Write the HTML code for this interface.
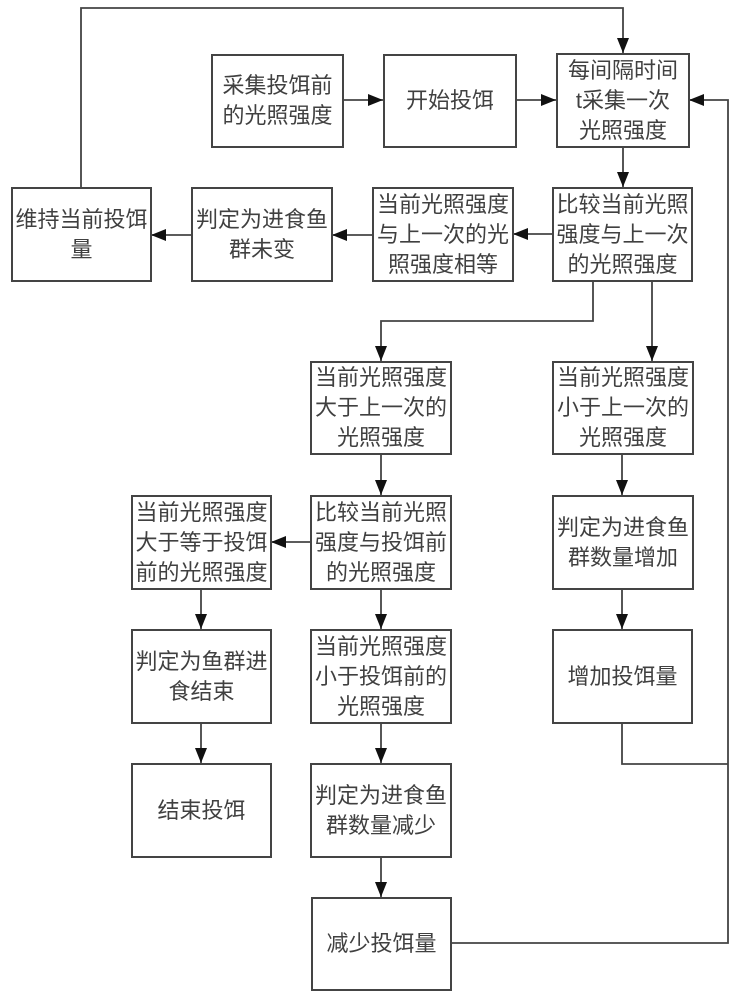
<!DOCTYPE html>
<html>
<head>
<meta charset="utf-8">
<style>
  html,body{margin:0;padding:0;background:#fff;}
  #c{position:relative;width:737px;height:1000px;overflow:hidden;background:#fff;}
  svg{position:absolute;left:0;top:0;}
  .b{position:absolute;box-sizing:border-box;border:2px solid #444;background:#fff;
     display:flex;align-items:center;justify-content:center;text-align:center;
     font-family:"Liberation Sans","Noto Sans CJK SC",sans-serif;font-size:22px;line-height:30px;color:#404040;white-space:nowrap;}
</style>
</head>
<body>
<div id="c">
<svg width="737" height="1000" viewBox="0 0 737 1000">
  <defs>
    <marker id="a" markerWidth="15" markerHeight="12" refX="15" refY="6" orient="auto" markerUnits="userSpaceOnUse">
      <path d="M0,0 L15,6 L0,12 z" fill="#111"/>
    </marker>
  </defs>
  <g stroke="#444" stroke-width="1.8" fill="none">
    <line x1="343" y1="100" x2="383" y2="100" marker-end="url(#a)"/>
    <line x1="516" y1="100" x2="556" y2="100" marker-end="url(#a)"/>
    <line x1="623" y1="147" x2="623" y2="187" marker-end="url(#a)"/>
    <line x1="552" y1="234" x2="513" y2="234" marker-end="url(#a)"/>
    <line x1="372" y1="235" x2="332" y2="235" marker-end="url(#a)"/>
    <line x1="191" y1="235" x2="151" y2="235" marker-end="url(#a)"/>
    <polyline points="81,187 81,8 623,8 623,53" marker-end="url(#a)"/>
    <polyline points="593,281 593,321 381,321 381,361" marker-end="url(#a)"/>
    <line x1="652" y1="281" x2="652" y2="361" marker-end="url(#a)"/>
    <line x1="381" y1="454" x2="381" y2="495" marker-end="url(#a)"/>
    <line x1="310" y1="542" x2="271" y2="542" marker-end="url(#a)"/>
    <line x1="622" y1="454" x2="622" y2="495" marker-end="url(#a)"/>
    <line x1="201" y1="589" x2="201" y2="629" marker-end="url(#a)"/>
    <line x1="381" y1="589" x2="381" y2="629" marker-end="url(#a)"/>
    <line x1="622" y1="589" x2="622" y2="629" marker-end="url(#a)"/>
    <line x1="201" y1="723" x2="201" y2="763" marker-end="url(#a)"/>
    <line x1="381" y1="723" x2="381" y2="763" marker-end="url(#a)"/>
    <line x1="381" y1="857" x2="381" y2="897" marker-end="url(#a)"/>
    <polyline points="622,723 622,764 728,764"/>
    <polyline points="451,943 728,943 728,100 689,100" marker-end="url(#a)"/>
  </g>
</svg>

<div class="b" style="left:211px;top:54px;width:133px;height:94px;">采集投饵前<br>的光照强度</div>
<div class="b" style="left:383px;top:54px;width:134px;height:94px;">开始投饵</div>
<div class="b" style="left:556px;top:53px;width:134px;height:95px;">每间隔时间<br>t采集一次<br>光照强度</div>
<div class="b" style="left:552px;top:187px;width:141px;height:95px;">比较当前光照<br>强度与上一次<br>的光照强度</div>
<div class="b" style="left:372px;top:187px;width:142px;height:95px;">当前光照强度<br>与上一次的光<br>照强度相等</div>
<div class="b" style="left:191px;top:187px;width:142px;height:95px;">判定为进食鱼<br>群未变</div>
<div class="b" style="left:11px;top:187px;width:141px;height:95px;">维持当前投饵<br>量</div>
<div class="b" style="left:310px;top:361px;width:142px;height:94px;">当前光照强度<br>大于上一次的<br>光照强度</div>
<div class="b" style="left:552px;top:361px;width:142px;height:94px;">当前光照强度<br>小于上一次的<br>光照强度</div>
<div class="b" style="left:310px;top:495px;width:142px;height:95px;">比较当前光照<br>强度与投饵前<br>的光照强度</div>
<div class="b" style="left:131px;top:495px;width:141px;height:95px;">当前光照强度<br>大于等于投饵<br>前的光照强度</div>
<div class="b" style="left:552px;top:495px;width:142px;height:95px;">判定为进食鱼<br>群数量增加</div>
<div class="b" style="left:131px;top:629px;width:141px;height:95px;">判定为鱼群进<br>食结束</div>
<div class="b" style="left:310px;top:629px;width:142px;height:95px;">当前光照强度<br>小于投饵前的<br>光照强度</div>
<div class="b" style="left:552px;top:629px;width:141px;height:95px;">增加投饵量</div>
<div class="b" style="left:131px;top:763px;width:141px;height:95px;">结束投饵</div>
<div class="b" style="left:310px;top:763px;width:142px;height:95px;">判定为进食鱼<br>群数量减少</div>
<div class="b" style="left:311px;top:897px;width:141px;height:94px;">减少投饵量</div>
</div>
</body>
</html>
